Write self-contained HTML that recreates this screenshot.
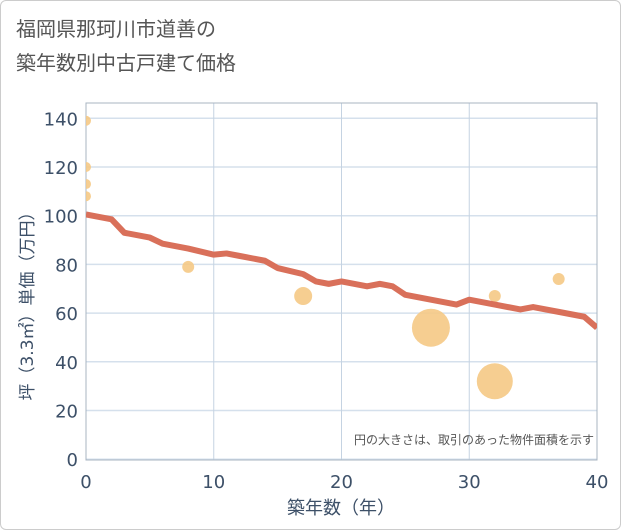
<!DOCTYPE html>
<html><head><meta charset="utf-8"><style>
body{margin:0;background:#fff;font-family:"DejaVu Sans","Noto Sans CJK JP",sans-serif}
#wrap{position:relative;width:619px;height:528px;border:1px solid #ccc;border-radius:6px;background:#fff}
#title{position:absolute;left:15px;top:11px;font-size:20px;line-height:34px;color:#555}
svg{position:absolute;left:-1px;top:-1px;font-family:"DejaVu Sans","Noto Sans CJK JP",sans-serif}
</style></head><body>
<div id="wrap">
<div id="title">福岡県那珂川市道善の<br>築年数別中古戸建て価格</div>
<svg id="c" width="621" height="530"></svg>
</div>
<script>
const xTicks=[0,10,20,30,40];
const yTicks=[0,20,40,60,80,100,120,140];
const lineX=[0,2,3,5,6,8,10,11,12,14,15,17,18,19,20,22,23,24,25,27,29,30,32,34,35,37,39,40];
const lineY=[100.5,98.5,93,91,88.5,86.5,84,84.5,83.5,81.5,78.5,76,73,72,73,71,72,71,67.5,65.5,63.5,65.5,63.5,61.5,62.5,60.5,58.5,54];
const bubX=[0,0,0,0,8,17,27,32,32,37];
const bubY=[139,120,113,108,79,67,54,32,67,74];
const bubR=[5,5,5,5,6,9,19,18,6,6];
const L=86,R=597,T=103,B=460;
const sx=v=>L+(v-0)/40*(R-L);
const sy=v=>459.2-v*2.435;
const NS="http://www.w3.org/2000/svg",svg=document.getElementById('c');
function mk(t,a,p){const e=document.createElementNS(NS,t);for(const k in a)e.setAttribute(k,a[k]);(p||svg).appendChild(e);return e;}
const clip=mk('clipPath',{id:'cp'});mk('rect',{x:L,y:T,width:R-L,height:B-T},clip);
yTicks.forEach(v=>{const l=mk('line',{x1:L,x2:R,y1:sy(v),y2:sy(v),stroke:'#d5e0ec','stroke-width':1.5});


const t=mk('text',{x:L-8,y:sy(v)+7,'text-anchor':'end','font-size':18,fill:'#3d5068'});t.textContent=v;

});
xTicks.forEach(v=>{const l=mk('line',{x1:sx(v),x2:sx(v),y1:T,y2:B,stroke:'#c5d3e2','stroke-width':1});


const t=mk('text',{x:sx(v),y:488,'text-anchor':'middle','font-size':18,fill:'#3d5068'});t.textContent=v;

});
const fr=mk('rect',{x:L,y:T,width:R-L,height:B-T,fill:'none',stroke:'#a8b4c2','stroke-width':1});


const g=mk('g',{'clip-path':'url(#cp)'});
bubX.forEach((x,i)=>{const c=mk('circle',{cx:sx(x),cy:sy(bubY[i]),r:bubR[i],fill:'#f5c985','fill-opacity':0.9},g);

});
const pl=mk('polyline',{points:lineX.map((x,i)=>sx(x)+','+sy(lineY[i])).join(' '),fill:'none',stroke:'#d9705a','stroke-width':6,'stroke-linejoin':'round'},g);


const note=mk('text',{x:594,y:444,'text-anchor':'end','font-size':12,fill:'#555'});note.textContent='円の大きさは、取引のあった物件面積を示す';


const xt=mk('text',{x:341,y:514,'text-anchor':'middle','font-size':18,fill:'#3d5068'});xt.textContent='築年数（年）';


const yt=mk('text',{x:0,y:0,'text-anchor':'middle','font-size':17,fill:'#3d5068',transform:'translate(33,302) rotate(-90)'});yt.textContent='坪（3.3㎡）単価（万円）';


</script>
</body></html>
